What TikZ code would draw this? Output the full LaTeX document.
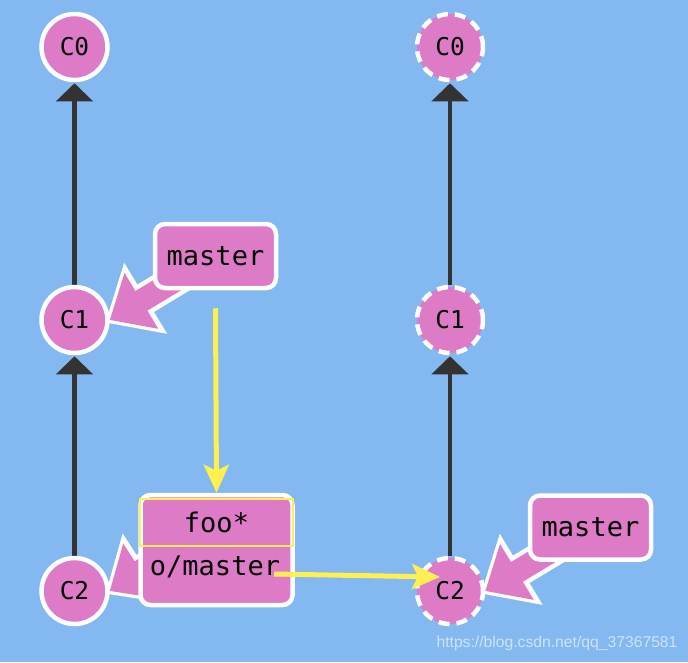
\documentclass[tikz,border=0pt]{standalone}
\usepackage{fontspec}
\usepackage{tikz}
\usetikzlibrary{arrows.meta}
\newfontfamily\gitmono{DejaVu Sans Mono}
\newfontfamily\wmfont{Liberation Sans}
\definecolor{gitblue}{RGB}{131,184,240}
\definecolor{gitpink}{RGB}{221,123,199}
\definecolor{gitdark}{RGB}{51,51,51}
\definecolor{gityellow}{RGB}{255,240,80}
\pgfdeclarelayer{back}
\pgfdeclarelayer{links}
\pgfdeclarelayer{tags}
\pgfdeclarelayer{front}
\pgfsetlayers{back,links,main,tags,front}

\begin{document}
\begin{tikzpicture}[x=1pt,y=-1pt,
  commit/.style={circle,fill=gitpink,draw=white,line width=4.5pt,
    minimum size=66pt,inner sep=0pt,font=\gitmono\fontsize{24.5}{24.5}\selectfont},
  ghost/.style={commit,dash pattern=on 11pt off 7pt},
  branch/.style={rectangle,rounded corners=10pt,fill=gitpink,draw=white,
    line width=4.5pt,minimum width=121pt,minimum height=64pt,
    font=\gitmono\fontsize{27}{27}\selectfont},
  label/.style={inner sep=0pt,font=\gitmono\fontsize{27}{27}\selectfont},
  parent/.style={draw=gitdark,line width=4.5pt,-{Triangle[length=18pt,width=36pt]},shorten >=1pt},
  tagout/.style={draw=white,line width=32pt,-{Triangle[length=47pt,width=80pt]},shorten >=-5pt},
  tagin/.style={draw=gitpink,line width=23pt,-{Triangle[length=37pt,width=63pt]}},
  move/.style={draw=gityellow,line width=5pt,-{Stealth[length=28pt,width=25pt,inset=6pt]}},
  watermark/.style={text=white,text opacity=0.6,font=\wmfont\fontsize{15.7}{16}\selectfont}]
%background:
\begin{pgfonlayer}{back}
\fill[gitblue] (0,0) rectangle (688,662);
\end{pgfonlayer}
%commits, before:
\node[commit] (c0l) at (74.5,47) {C0};
\node[commit] (c1l) at (74.5,320) {C1};
\node[commit] (c2l) at (74.5,591) {C2};
%commits, after:
\node[ghost] (c0r) at (450,47) {C0};
\node[ghost] (c1r) at (450,320) {C1};
\node[ghost] (c2r) at (450,591) {C2};
\begin{pgfonlayer}{links}
\draw[parent] (c1l) -- (c0l);
\draw[parent] (c2l) -- (c1l);
\draw[parent] (c1r) -- (c0r);
\draw[parent] (c2r) -- (c1r);
\end{pgfonlayer}
%branch labels:
\begin{pgfonlayer}{front}
\node[branch] (mL) at (215.5,256) {master};
\node[branch] (mR) at (590.5,527.5) {master};
\node[branch,minimum width=152pt,minimum height=110pt] (ob) at (216.5,550) {};
\node[label,draw=gityellow,line width=1.5pt,minimum width=153pt,minimum height=47pt] (foo) at (216.5,522.5) {foo*};
\node[label] (om) at (215,567) {o/master};
%moves:
\draw[move] ([yshift=-18pt]mL.south) -- (ob.north);
\draw[move] ([shift={(-6pt,-7pt)}]om.east) -- ([shift={(-10pt,14pt)}]c2r.center);
\end{pgfonlayer}
\begin{pgfonlayer}{tags}
\draw[tagout] (mL.center) -- (c1l.east);
\draw[tagin] (mL.center) -- (c1l.east);
\draw[tagout] (foo.center) -- (c2l.east);
\draw[tagin] (foo.center) -- (c2l.east);
\draw[tagout] (mR.center) -- (c2r.east);
\draw[tagin] (mR.center) -- (c2r.east);
\end{pgfonlayer}
\node[watermark] (wm) at (557,643) {https://blog.csdn.net/qq\_37367581};
\end{tikzpicture}
\end{document}
